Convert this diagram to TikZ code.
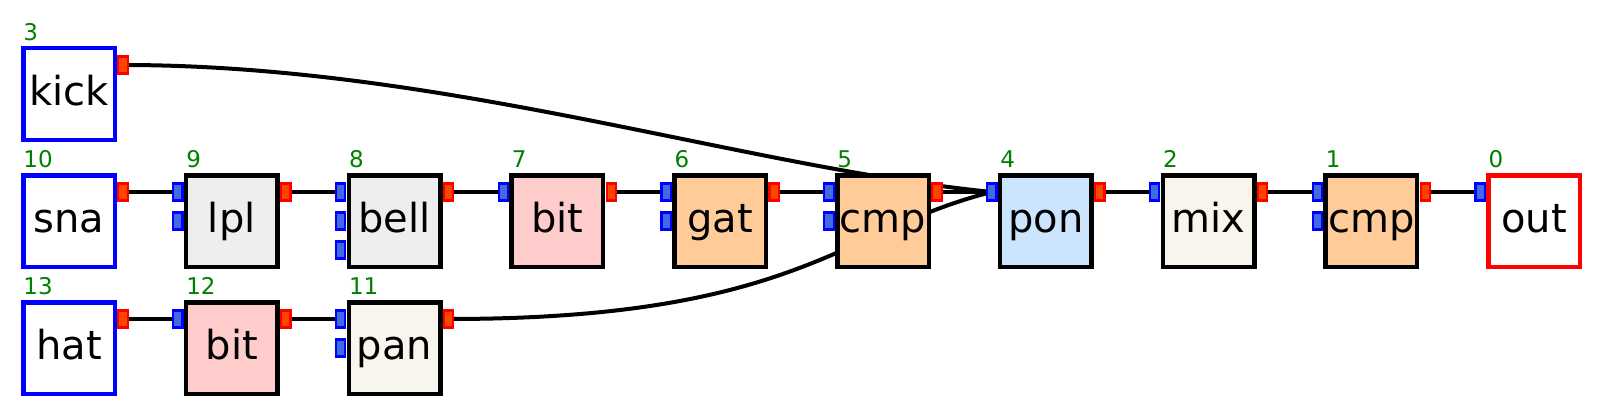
\documentclass[tikz,border=0pt]{standalone}
\usepackage{fontspec}
\setmainfont{DejaVu Sans}
\usepackage{xcolor}
\usepackage{tikz}
\usetikzlibrary{calc,backgrounds}

\definecolor{portred}{HTML}{FF4500}
\definecolor{portblue}{HTML}{4169E1}
\definecolor{numgreen}{HTML}{008000}
\definecolor{grayfill}{HTML}{EEEEEE}
\definecolor{pinkfill}{HTML}{FFCCCC}
\definecolor{peachfill}{HTML}{FFCC99}
\definecolor{bluefill}{HTML}{CCE5FF}
\definecolor{creamfill}{HTML}{F7F5EC}

\tikzset{
	unit/.style={rectangle, draw, line width=4.5pt, minimum size=91.5pt, inner sep=0pt, outer sep=0pt,
		text height=30pt, text depth=7pt, font=\fontsize{40}{48}\selectfont},
	num/.style={anchor=base west, inner sep=0pt, text=numgreen, font=\fontsize{23}{27}\selectfont},
	inport/.style={rectangle, draw=blue, fill=portblue, line width=2.2pt, minimum width=9.5pt, minimum height=17pt, inner sep=0pt, outer sep=0pt},
	outport/.style={rectangle, draw=red, fill=portred, line width=2.2pt, minimum width=9.5pt, minimum height=17pt, inner sep=0pt, outer sep=0pt},
	wire/.style={draw=black, line width=4pt}
}

\begin{document}
\begin{tikzpicture}[x=1pt, y=-1pt]
	\useasboundingbox (0,0) rectangle (1602,417);
	
	% units
	\foreach \nm/\txt/\x/\y/\fl/\bd/\n in {
		kick/kick/69/94/white/blue/3,
		sna/sna/69/221/white/blue/10,
		hat/hat/69/348/white/blue/13,
		lpl/lpl/231.8/221/grayfill/black/9,
		bithat/bit/231.8/348/pinkfill/black/12,
		bell/bell/394.6/221/grayfill/black/8,
		pan/pan/394.6/348/creamfill/black/11,
		bit/bit/557.4/221/pinkfill/black/7,
		gat/gat/720.2/221/peachfill/black/6,
		cmp/cmp/883/221/peachfill/black/5,
		pon/pon/1045.8/221/bluefill/black/4,
		mix/mix/1208.6/221/creamfill/black/2,
		cmpout/cmp/1371.4/221/peachfill/black/1,
		out/out/1534.2/221/white/red/0}{
		\node[unit, fill=\fl, draw=\bd] (\nm) at (\x,\y) {\txt};
		\node[num] (\nm-n) at ($(\nm.north west)+(0,-8)$) {\n};
	}
	
	% ports
	\foreach \nm in {kick,sna,hat,lpl,bithat,bell,pan,bit,gat,cmp,pon,mix,cmpout}
		\node[outport] (\nm-o) at ($(\nm.center)+(54,-29)$) {};
	\foreach \nm/\k in {lpl/1,lpl/2,bell/1,bell/2,bell/3,bithat/1,pan/1,pan/2,bit/1,
		gat/1,gat/2,cmp/1,cmp/2,pon/1,mix/1,cmpout/1,cmpout/2,out/1}
		\node[inport] (\nm-i\k) at ($(\nm.center)+(-54,{29*\k-58})$) {};
	
	% wires
	\begin{pgfonlayer}{background}
		\foreach \a/\b in {sna/lpl,lpl/bell,bell/bit,bit/gat,gat/cmp,cmp/pon,pon/mix,
			mix/cmpout,cmpout/out,hat/bithat,bithat/pan}
			\draw[wire] (\a-o.center) -- (\b-i1.center);
		\draw[wire] (kick-o.center) .. controls +(320,0) and +(-250,-25) .. (pon-i1.center);
		\draw[wire] (pan-o.center) .. controls +(350,0) and +(-150,37.5) .. (pon-i1.center);
	\end{pgfonlayer}
\end{tikzpicture}
\end{document}
